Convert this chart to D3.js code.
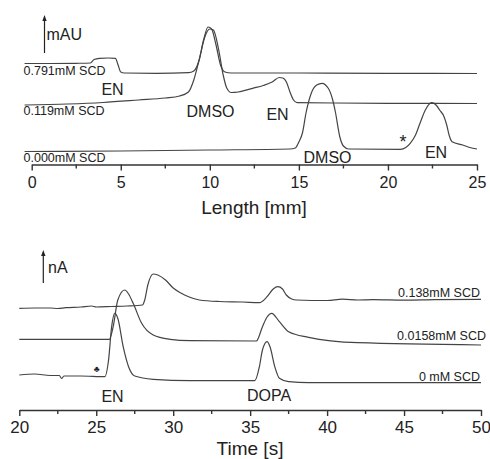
<!DOCTYPE html>
<html>
<head>
<meta charset="utf-8">
<script src="https://cdn.jsdelivr.net/npm/d3@7"></script>
<style>
  html, body { margin: 0; padding: 0; background: #fff; }
  svg { display: block; font-family: "Liberation Sans", Arial, Helvetica, sans-serif; }
</style>
</head>
<body>
<svg id="chart" width="490" height="459"></svg>
<script>
// ---------- Top panel data: absorbance (mAU, arbitrary offset) vs length [mm] ----------
const topTicks = [0, 5, 10, 15, 20, 25];
const topMinorTicks = [2.5, 7.5, 12.5, 17.5, 22.5];

const len791 = [-0.4, 1.0, 2.5, 3.3, 3.5, 3.8, 4.3, 4.7, 4.85, 5.0, 5.2, 7.0, 8.8, 9.1, 9.4, 9.65, 9.9, 10.1, 10.35, 10.6, 10.85, 11.2, 15, 20, 25];
const abs791 = [101.5, 101.5, 101.7, 102, 105.5, 106.7, 107, 106.7, 100, 93, 92, 91.7, 92.3, 94, 105, 125, 138, 136, 120, 100, 93, 92, 92, 91.7, 91.5];

const len119 = [-0.4, 2.0, 4.0, 6.0, 7.5, 8.3, 8.8, 9.1, 9.4, 9.7, 10.0, 10.2, 10.5, 10.75, 10.95, 11.2, 11.6, 12.4, 13.0, 13.5, 13.9, 14.1, 14.3, 14.5, 14.7, 14.9, 17, 20, 25];
const abs119 = [60, 61, 62.5, 65, 67, 69, 73, 85, 105, 127, 136, 135, 115, 90, 77, 72.5, 73, 76.7, 79.5, 83, 87.5, 87, 83, 73, 65, 62.3, 62, 61.7, 61.5];

const len000 = [-0.4, 5, 10, 14.5, 14.8, 15.0, 15.2, 15.4, 15.7, 16.0, 16.3, 16.65, 16.9, 17.05, 17.3, 17.5, 17.8, 20.7, 21.0, 21.25, 21.55, 21.8, 22.1, 22.45, 22.7, 22.9, 23.15, 23.3, 23.45, 23.6, 24.2, 24.6, 25.0];
const abs000 = [13.5, 14, 15, 16, 17, 23, 32, 52, 72, 80, 81.7, 76.7, 65, 53, 28, 19, 16, 15.7, 17.5, 21.7, 30, 41.7, 55, 62.3, 60, 55, 48.3, 40, 29, 23.3, 20, 17.5, 16];

const topLabels = ["0.791mM SCD", "0.119mM SCD", "0.000mM SCD"];

// ---------- Bottom panel data: current (nA, arbitrary offset) vs time [s] ----------
const botTicks = [20, 25, 30, 35, 40, 45, 50];
const botMinorTicks = [22.5, 27.5, 32.5, 37.5, 42.5, 47.5];

const t138 = [20, 21, 22, 22.5, 23, 24, 24.7, 25, 26, 27, 28.0, 28.15, 28.35, 28.7, 29.0, 29.5, 30.0, 30.5, 31.0, 31.7, 33.0, 34.5, 35.6, 36.1, 36.5, 36.8, 37.1, 37.35, 37.7, 38.0, 40, 41, 42, 43, 45, 47, 50];
const i138 = [101.7, 102, 102, 101.5, 102.3, 103, 104, 103, 103.5, 104, 105, 110, 125, 136, 135, 130, 122, 117, 113.3, 110, 108.5, 108, 107.3, 113.3, 121, 123.3, 121, 115, 111, 110, 109.5, 110.8, 110, 110.3, 109.8, 110.3, 110.7];

const t0158 = [20, 25.85, 26.1, 26.4, 26.85, 27.1, 27.4, 27.95, 28.7, 29.8, 31.1, 35.4, 35.8, 36.1, 36.4, 36.9, 37.5, 38.8, 42, 50];
const i0158 = [70.7, 70.7, 83.3, 110, 120, 116, 106.7, 86.7, 75, 70.7, 69.3, 69, 83.3, 93, 96.7, 88.3, 78.3, 72.7, 67.3, 65];

const t0 = [20, 21, 22, 22.6, 22.75, 22.9, 24, 25.55, 25.8, 26.0, 26.2, 26.4, 26.75, 27.1, 27.5, 28.7, 31.1, 35.3, 35.6, 35.8, 36.1, 36.3, 36.6, 36.9, 37.5, 38.8, 50];
const i0 = [35, 36, 34.5, 34.5, 31.5, 34, 34, 33.3, 50, 83.3, 96.7, 91.7, 63.3, 43.3, 34, 30.7, 29.3, 29.3, 43.3, 60, 68.3, 62.7, 43.3, 31.7, 28.3, 27.3, 27.3];

const botLabels = ["0.138mM SCD", "0.0158mM SCD", "0 mM SCD"];

// ---------- Drawing ----------
const svg = d3.select("#chart");
const lineColor = "#444";
const textColor = "#222";

const xTop = d3.scaleLinear().domain([0, 25]).range([31.7, 477]);
const yTop = d3.scaleLinear().domain([0, 150]).range([165, 15]);
const xBot = d3.scaleLinear().domain([20, 50]).range([19.3, 481]);
const yBot = d3.scaleLinear().domain([0, 150]).range([410, 260]);

function drawTrace(xs, ys, xS, yS) {
  const pts = xs.map((x, i) => [x, ys[i]]);
  const line = d3.line().x(d => xS(d[0])).y(d => yS(d[1])).curve(d3.curveMonotoneX);
  svg.append("path").attr("d", line(pts))
    .attr("fill", "none").attr("stroke", lineColor).attr("stroke-width", 1.2)
    .attr("stroke-linejoin", "round");
}

drawTrace(len791, abs791, xTop, yTop);
drawTrace(len119, abs119, xTop, yTop);
drawTrace(len000, abs000, xTop, yTop);
drawTrace(t138, i138, xBot, yBot);
drawTrace(t0158, i0158, xBot, yBot);
drawTrace(t0, i0, xBot, yBot);

function drawAxis(xS, y, majors, minors, fontSize, pad) {
  const g = svg.append("g").attr("transform", `translate(0,${y})`);
  g.call(d3.axisBottom(xS).tickValues(majors).tickSize(6).tickSizeOuter(0).tickPadding(pad).tickFormat(d3.format("d")));
  g.select(".domain").attr("stroke", "#333").attr("stroke-width", 1.6);
  g.selectAll(".tick line").attr("stroke", "#333").attr("stroke-width", 1.4);
  g.selectAll(".tick text").attr("fill", textColor).style("font-size", fontSize + "px")
    .style("font-family", '"Liberation Sans", Arial, Helvetica, sans-serif');
  const gm = svg.append("g").attr("transform", `translate(0,${y})`);
  gm.selectAll("line").data(minors).join("line")
    .attr("x1", d => xS(d)).attr("x2", d => xS(d)).attr("y1", 0).attr("y2", 4)
    .attr("stroke", "#333").attr("stroke-width", 1.4);
}
drawAxis(xTop, 164.5, topTicks, topMinorTicks, 16, 6);
drawAxis(xBot, 410, botTicks, botMinorTicks, 17, 5);

function text(str, x, y, size, anchor) {
  svg.append("text").attr("x", x).attr("y", y).attr("fill", textColor)
    .attr("text-anchor", anchor || "start").style("font-size", size + "px").text(str);
}

// axis titles
text("Length [mm]", 254, 214, 19, "middle");
text("Time [s]", 250, 455, 19, "middle");

// unit arrows (vertical shaft + small triangular head)
function unitArrow(x, yBottom, yTop) {
  svg.append("line").attr("x1", x).attr("x2", x).attr("y1", yBottom).attr("y2", yTop + 4)
    .attr("stroke", "#222").attr("stroke-width", 1.2);
  svg.append("path")
    .attr("d", `M${x},${yTop} L${x - 2.2},${yTop + 6} L${x + 2.2},${yTop + 6} Z`)
    .attr("fill", "#222");
}
unitArrow(44.5, 53, 15);
unitArrow(43.3, 283, 250);
text("mAU", 46.5, 40, 16);
text("nA", 48, 273, 16);

// trace labels
const topLabelY = [75, 115, 162];
topLabels.forEach((s, i) => text(s, 23.5, topLabelY[i], 12.5));
const botLabelY = [296.7, 340, 381];
const botLabelX = [480, 486, 480];
botLabels.forEach((s, i) => text(s, botLabelX[i], botLabelY[i], 12.5, "end"));

// peak annotations
text("EN", 112.5, 95, 16, "middle");
text("DMSO", 210.5, 116.7, 16, "middle");
text("EN", 277.5, 120, 16, "middle");
text("DMSO", 327.5, 163, 16, "middle");
text("*", 403, 148, 18, "middle");
text("EN", 436, 158, 16, "middle");
text("\u2663", 96.7, 372, 9, "middle");
text("EN", 112.5, 401.7, 16, "middle");
text("DOPA", 269, 401, 16, "middle");
</script>
</body>
</html>
